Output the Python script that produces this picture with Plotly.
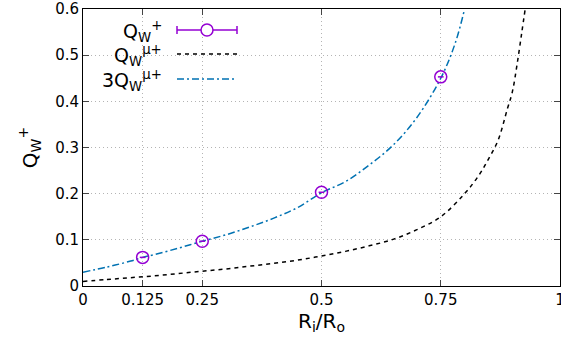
import plotly.graph_objects as go

# data points Q_W^+
pts_x = [0.125, 0.25, 0.5, 0.75]
pts_y = [0.062, 0.097, 0.203, 0.453]
pts_err = [0.006, 0.006, 0.006, 0.006]

# Q_W^{mu+} curve
mu_x = [0.0, 0.05, 0.1, 0.15, 0.2, 0.25, 0.3, 0.35, 0.4, 0.45, 0.5, 0.55, 0.6, 0.65, 0.7, 0.75, 0.8, 0.83, 0.85, 0.87, 0.89, 0.90, 0.91, 0.92, 0.927]
mu_y = [0.010, 0.014, 0.018, 0.022, 0.027, 0.032, 0.037, 0.043, 0.049, 0.056, 0.065, 0.075, 0.087, 0.101, 0.122, 0.150, 0.200, 0.240, 0.275, 0.315, 0.385, 0.420, 0.480, 0.550, 0.600]

# 3 Q_W^{mu+} curve
mu3_x = [0.0, 0.05, 0.1, 0.125, 0.15, 0.2, 0.25, 0.3, 0.35, 0.4, 0.45, 0.5, 0.55, 0.6, 0.65, 0.7, 0.75, 0.78, 0.80]
mu3_y = [0.030, 0.041, 0.054, 0.062, 0.068, 0.082, 0.097, 0.111, 0.128, 0.147, 0.170, 0.202, 0.226, 0.262, 0.305, 0.365, 0.450, 0.525, 0.600]

x_ticks = [0, 0.125, 0.25, 0.5, 0.75, 1]
x_tick_labels = ["0", "0.125", "0.25", "0.5", "0.75", "1"]
y_ticks = [0, 0.1, 0.2, 0.3, 0.4, 0.5, 0.6]
y_tick_labels = ["0", "0.1", "0.2", "0.3", "0.4", "0.5", "0.6"]

PURPLE = "#9400D3"
BLUE = "#0072B2"
FONT = "DejaVu Sans"
GRID = "#b4b4b4"

fig = go.Figure()
fig.add_trace(go.Scatter(x=mu_x, y=mu_y, mode="lines", line=dict(color="black", width=1.5, dash="4px,4px"), line_shape="spline", showlegend=False))
fig.add_trace(go.Scatter(x=mu3_x, y=mu3_y, mode="lines", line=dict(color=BLUE, width=1.5, dash="7px,3px,2px,3px"), line_shape="spline", showlegend=False))
fig.add_trace(go.Scatter(x=pts_x, y=pts_y, mode="markers",
                         marker=dict(symbol="circle-open", size=12, color=PURPLE, line=dict(width=1.5, color=PURPLE)),
                         error_x=dict(type="data", array=pts_err, color=PURPLE, thickness=1.5, width=0),
                         showlegend=False))

# manual legend (gnuplot style)
W, H = 561, 342
L, R, T, B = 83, 1, 9, 56
pw, ph = W - L - R, H - T - B

def px(xp):
    return (xp - L) / pw

def py(yp):
    return 1 - (yp - T) / ph

shapes = [dict(type="rect", xref="paper", yref="paper", x0=px(100), x1=px(250), y0=py(92), y1=py(14),
               fillcolor="white", line=dict(width=0), layer="between")]
rows = [30, 54, 79]
shapes.append(dict(type="line", xref="paper", yref="paper", x0=px(177), x1=px(237), y0=py(rows[0]), y1=py(rows[0]), line=dict(color=PURPLE, width=1.5), layer="above"))
shapes.append(dict(type="line", xref="paper", yref="paper", x0=px(177), x1=px(177), y0=py(rows[0] - 4), y1=py(rows[0] + 4), line=dict(color=PURPLE, width=1.5), layer="above"))
shapes.append(dict(type="line", xref="paper", yref="paper", x0=px(237), x1=px(237), y0=py(rows[0] - 4), y1=py(rows[0] + 4), line=dict(color=PURPLE, width=1.5), layer="above"))
shapes.append(dict(type="circle", xref="paper", yref="paper", x0=px(201), x1=px(213), y0=py(rows[0] + 6), y1=py(rows[0] - 6), line=dict(color=PURPLE, width=1.5), fillcolor="white", layer="above"))
shapes.append(dict(type="line", xref="paper", yref="paper", x0=px(177), x1=px(237), y0=py(rows[1]), y1=py(rows[1]), line=dict(color="black", width=1.5, dash="4px,4px"), layer="above"))
shapes.append(dict(type="line", xref="paper", yref="paper", x0=px(177), x1=px(237), y0=py(rows[2]), y1=py(rows[2]), line=dict(color=BLUE, width=1.5, dash="7px,3px,2px,3px"), layer="above"))

legend_texts = ["Q<sub>W</sub><sup>+</sup>", "Q<sub>W</sub><sup>μ+</sup>", "3Q<sub>W</sub><sup>μ+</sup>"]
annotations = []
for t, r in zip(legend_texts, rows):
    annotations.append(dict(text=t, xref="paper", yref="paper", x=px(164), y=py(r + 2), xanchor="right", yanchor="middle",
                            showarrow=False, font=dict(family=FONT, size=19, color="black")))

fig.update_layout(
    width=W, height=H,
    margin=dict(l=L, r=R, t=T, b=B, autoexpand=False),
    paper_bgcolor="white", plot_bgcolor="white",
    font=dict(family=FONT, size=15, color="black"),
    shapes=shapes, annotations=annotations,
    xaxis=dict(range=[0, 1], tickvals=x_ticks, ticktext=x_tick_labels, ticks="inside", ticklen=6,
               ticklabeloverflow="allow", automargin=False,
               showline=True, linecolor="black", linewidth=1, mirror="allticks",
               showgrid=True, gridcolor=GRID, griddash="1px,3px", gridwidth=1, zeroline=False,
               title=dict(text="R<sub>i</sub>/R<sub>o</sub>", font=dict(size=20), standoff=2)),
    yaxis=dict(range=[0, 0.6], tickvals=y_ticks, ticktext=y_tick_labels, ticks="inside", ticklen=6,
               ticklabeloverflow="allow", automargin=False,
               showline=True, linecolor="black", linewidth=1, mirror="allticks",
               showgrid=True, gridcolor=GRID, griddash="1px,3px", gridwidth=1, zeroline=False,
               title=dict(text="Q<sub>W</sub><sup>+</sup>", font=dict(size=20), standoff=12)),
)

fig.write_html("out.html")
